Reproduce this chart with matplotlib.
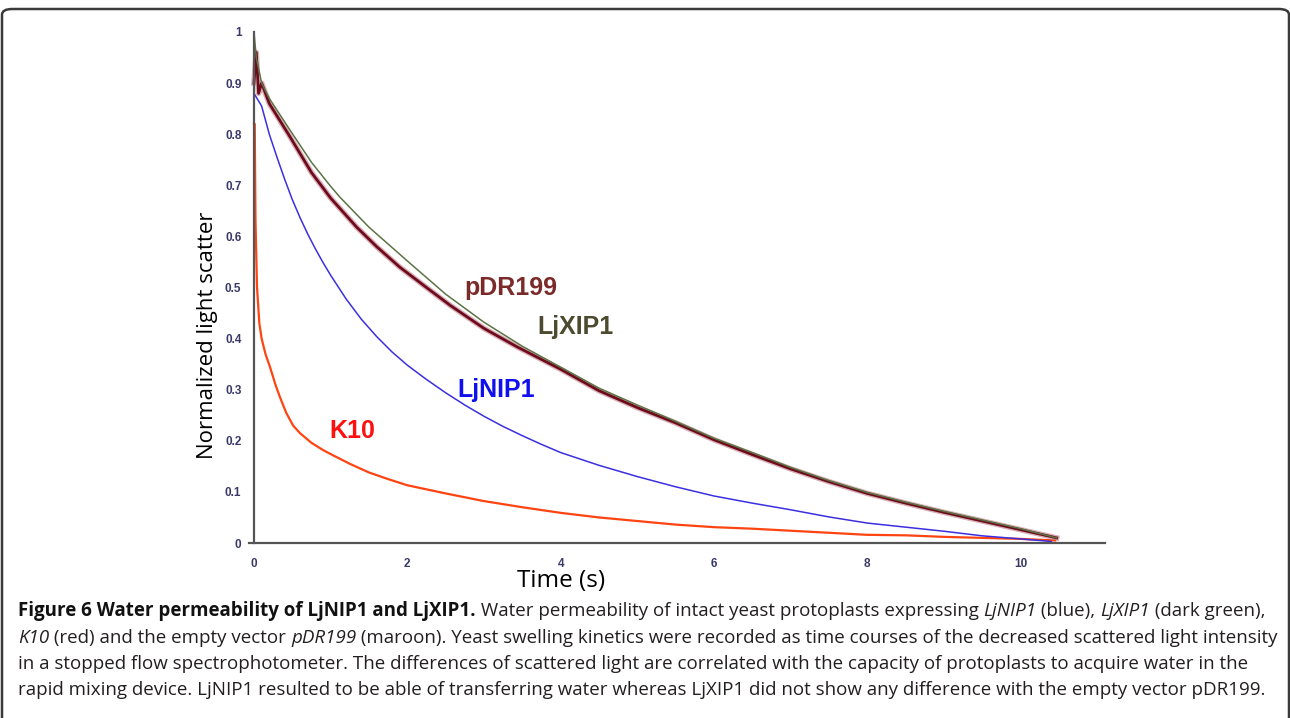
import matplotlib.pyplot as plt
from matplotlib.patches import FancyBboxPatch

# values (time in s, normalized scatter)
k10_t = [0, 0.01, 0.02, 0.04, 0.07, 0.1, 0.15, 0.21, 0.28, 0.34, 0.42, 0.51, 0.6, 0.75,
         0.9, 1.0, 1.25, 1.5, 1.75, 2.0, 2.5, 3.0, 3.5, 4.0, 4.5, 5.0, 5.5, 6.0, 6.5,
         7.0, 7.5, 8.0, 8.5, 9.0, 9.5, 10.0, 10.45]
k10_y = [0.82, 0.82, 0.63, 0.50, 0.43, 0.40, 0.37, 0.344, 0.31, 0.285, 0.255, 0.23,
         0.215, 0.196, 0.182, 0.174, 0.155, 0.138, 0.125, 0.113, 0.097, 0.082, 0.07,
         0.059, 0.05, 0.043, 0.036, 0.031, 0.028, 0.024, 0.02, 0.016, 0.015, 0.012,
         0.01, 0.008, 0.005]

nip1_t = [0, 0.1, 0.2, 0.3, 0.4, 0.5, 0.6, 0.7, 0.8, 0.9, 1.0, 1.2, 1.4, 1.6, 1.8, 2.0,
          2.25, 2.5, 2.75, 3.0, 3.25, 3.5, 3.75, 4.0, 4.5, 5.0, 5.5, 6.0, 6.5, 7.0, 7.5,
          8.0, 8.5, 9.0, 9.5, 10.0, 10.4]
nip1_y = [0.88, 0.855, 0.80, 0.755, 0.712, 0.672, 0.637, 0.605, 0.576, 0.549, 0.524,
          0.478, 0.438, 0.404, 0.374, 0.348, 0.32, 0.294, 0.27, 0.248, 0.228, 0.21,
          0.193, 0.177, 0.152, 0.13, 0.11, 0.092, 0.078, 0.065, 0.051, 0.039, 0.031,
          0.023, 0.014, 0.008, 0.003]

pdr_t = [0, 0.03, 0.06, 0.1, 0.2, 0.47, 0.75, 1.0, 1.34, 1.6, 1.9, 2.25, 2.56, 3.0,
         3.43, 4.0, 4.5, 5.0, 5.5, 6.0, 6.5, 7.0, 7.5, 8.0, 8.5, 9.0, 9.5, 10.0, 10.47]
pdr_y = [0.90, 0.96, 0.88, 0.90, 0.86, 0.795, 0.725, 0.675, 0.618, 0.58, 0.54, 0.50,
         0.465, 0.42, 0.384, 0.34, 0.298, 0.265, 0.235, 0.202, 0.173, 0.145, 0.12,
         0.097, 0.078, 0.06, 0.043, 0.026, 0.01]

xip1_t = [0, 0.03, 0.1, 0.2, 0.47, 0.75, 1.0, 1.12, 1.5, 2.0, 2.5, 3.0, 3.5, 4.0, 4.5,
          5.0, 5.5, 6.0, 6.5, 7.0, 7.5, 8.0, 8.5, 9.0, 9.5, 10.0, 10.47]
xip1_y = [1.0, 0.95, 0.90, 0.87, 0.808, 0.745, 0.698, 0.677, 0.618, 0.552, 0.487,
          0.432, 0.385, 0.344, 0.303, 0.27, 0.238, 0.205, 0.177, 0.148, 0.122, 0.099,
          0.08, 0.062, 0.045, 0.028, 0.01]

x_ticks = [0, 2, 4, 6, 8, 10]
y_ticks = [0, 0.1, 0.2, 0.3, 0.4, 0.5, 0.6, 0.7, 0.8, 0.9, 1]
y_tick_labels = ['0', '0.1', '0.2', '0.3', '0.4', '0.5', '0.6', '0.7', '0.8', '0.9', '1']

fig = plt.figure(figsize=(12.9, 7.18), dpi=100)
W, H = 1290, 718

# rounded frame around the whole figure (bottom runs off the canvas)
frame = FancyBboxPatch((2 / W, -0.1), 1287 / W, 1 - 9 / H + 0.1,
                       boxstyle="round,pad=0,rounding_size=0.008",
                       transform=fig.transFigure, fill=False,
                       edgecolor='#3a3a3a', linewidth=1.8)
fig.patches.append(frame)

ax = fig.add_axes([248.6 / W, (H - 543) / H, (1105 - 248.6) / W, (543 - 32) / H])
ax.plot(k10_t, k10_y, color='#ff4411', lw=1.6)
ax.plot(nip1_t, nip1_y, color='#3b2fe0', lw=1.1)
ax.plot(pdr_t, pdr_y, color='#b8707c', lw=4.0, alpha=0.55)
ax.plot(pdr_t, pdr_y, color='#6e0a1c', lw=2.0)
ax.plot(xip1_t, xip1_y, color='#5c7444', lw=1.1)

ax.set_xlim(-0.07, 11.1)
ax.set_ylim(0, 1)
for s in ['top', 'right']:
    ax.spines[s].set_visible(False)
ax.spines['left'].set_position(('data', 0))
for s in ['left', 'bottom']:
    ax.spines[s].set_color('#555555')
    ax.spines[s].set_linewidth(1.6)

ax.set_xticks(x_ticks)
ax.set_xticklabels([str(v) for v in x_ticks])
ax.set_yticks(y_ticks)
ax.set_yticklabels(y_tick_labels)
ax.tick_params(length=0, labelsize=8.5, labelcolor='#3a3a6a')
ax.tick_params(axis='x', pad=11)
ax.tick_params(axis='y', pad=9)
for lab in ax.get_xticklabels() + ax.get_yticklabels():
    lab.set_fontfamily('Liberation Sans')
    lab.set_fontweight('bold')

ax.text(2.74, 0.5, 'pDR199', color='#7b2a2a', fontsize=18, fontweight='bold',
        family='Liberation Sans', va='center')
ax.text(3.69, 0.423, 'LjXIP1', color='#4d4a30', fontsize=18, fontweight='bold',
        family='Liberation Sans', va='center')
ax.text(2.65, 0.3, 'LjNIP1', color='#1010ee', fontsize=18, fontweight='bold',
        family='Liberation Sans', va='center')
ax.text(0.99, 0.22, 'K10', color='#ff1010', fontsize=18, fontweight='bold',
        family='Liberation Sans', va='center')

fig.text(561 / W, 1 - 581 / H, 'Time (s)', fontsize=17.5, family='Open Sans',
         ha='center', va='center')
fig.text(207 / W, 1 - 335 / H, 'Normalized light scatter', fontsize=16,
         family='Open Sans', rotation=90, ha='center', va='center')

# caption, written run by run so bold / italic pieces sit inline
caption = [
    [("Figure 6 Water permeability of LjNIP1 and LjXIP1.", 'bold'),
     (" Water permeability of intact yeast protoplasts expressing ", 'normal'),
     ("LjNIP1", 'italic'), (" (blue), ", 'normal'), ("LjXIP1", 'italic'),
     (" (dark green),", 'normal')],
    [("K10", 'italic'), (" (red) and the empty vector ", 'normal'), ("pDR199", 'italic'),
     (" (maroon). Yeast swelling kinetics were recorded as time courses of the decreased scattered light intensity", 'normal')],
    [("in a stopped flow spectrophotometer. The differences of scattered light are correlated with the capacity of protoplasts to acquire water in the", 'normal')],
    [("rapid mixing device. LjNIP1 resulted to be able of transferring water whereas LjXIP1 did not show any difference with the empty vector pDR199.", 'normal')],
]
line_y = [611, 638, 664, 690]
renderer = fig.canvas.get_renderer()
for runs, py in zip(caption, line_y):
    x = 18
    for txt, style in runs:
        kw = dict(fontsize=13.5, family='Open Sans', color='#231f20', va='center',
                  transform=None)
        if style == 'bold':
            kw['fontweight'] = 'bold'
            kw['color'] = '#111111'
        elif style == 'italic':
            kw['fontstyle'] = 'italic'
        t = fig.text(x, H - py, txt, **kw)
        x += t.get_window_extent(renderer).width

fig.savefig('out.png', dpi=100)
